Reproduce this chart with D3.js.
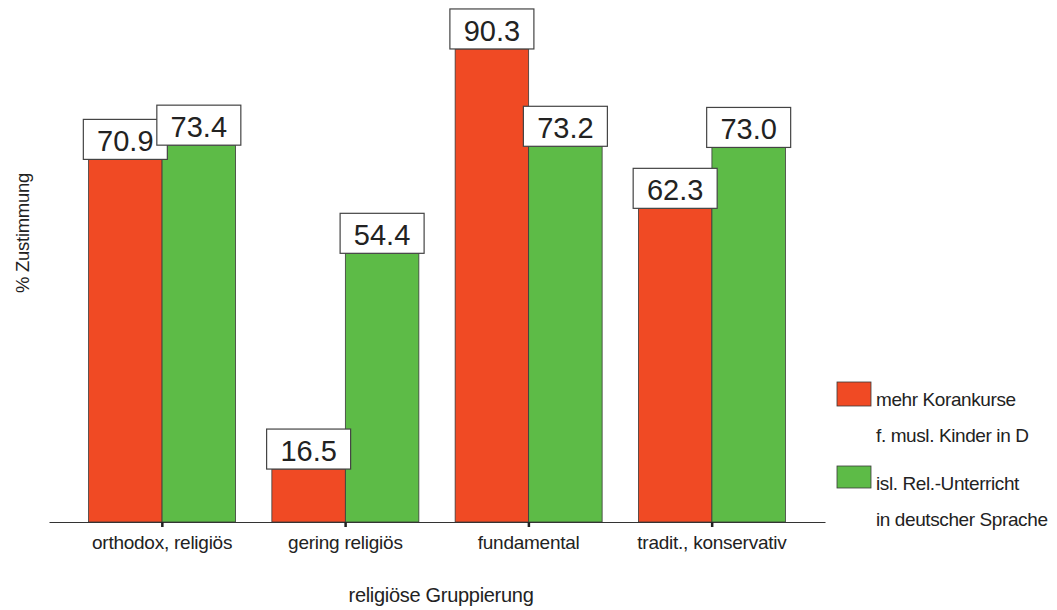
<!DOCTYPE html>
<html>
<head>
<meta charset="utf-8">
<script src="https://cdn.jsdelivr.net/npm/d3@7"></script>
<style>
  html, body { margin: 0; padding: 0; background: #fff; }
  svg { display: block; font-family: "Liberation Sans", Arial, sans-serif; }
</style>
</head>
<body>
<svg id="chart" width="1057" height="610"></svg>
<script>
const categories = ["orthodox, religiös", "gering religiös", "fundamental", "tradit., konservativ"];
const seriesNames = ["mehr Korankurse|f. musl. Kinder in D", "isl. Rel.-Unterricht|in deutscher Sprache"];
const koranValues = [70.9, 16.5, 90.3, 62.3];
const unterrichtValues = [73.4, 54.4, 73.2, 73.0];
const seriesColors = ["#F04A24", "#5DBB47"];
const yTitle = "% Zustimmung";
const xTitle = "religiöse Gruppierung";

const series = [koranValues, unterrichtValues];
const svg = d3.select("#chart");

const x0 = d3.scaleBand().domain(categories).range([49, 825]).paddingInner(0.198).paddingOuter(0.216);
const x1 = d3.scaleBand().domain([0, 1]).range([0, x0.bandwidth()]).padding(0);
const y = d3.scaleLinear().domain([7.2, 98.9]).range([522, 0]);

const groups = svg.append("g").selectAll("g").data(categories).join("g")
  .attr("transform", d => `translate(${x0(d)},0)`);

groups.each(function(cat, ci) {
  const g = d3.select(this);
  series.forEach((vals, si) => {
    const v = vals[ci];
    g.append("rect")
      .attr("x", x1(si))
      .attr("y", y(v))
      .attr("width", x1.bandwidth())
      .attr("height", y.range()[0] - y(v))
      .attr("fill", seriesColors[si])
      .attr("stroke", "#3a3a3a")
      .attr("stroke-width", 0.8);
  });
});

// axis
const axis = d3.axisBottom(x0).tickSize(0).tickPadding(14);
const ax = svg.append("g").attr("transform", "translate(0,522)").call(axis);
ax.select(".domain").attr("stroke", "#333").attr("stroke-width", 1.2);
ax.selectAll(".tick text").attr("font-size", 19).attr("fill", "#222")
  .attr("font-family", "Liberation Sans, Arial, sans-serif").attr("letter-spacing", -0.25);
ax.selectAll(".tick").append("rect")
  .attr("x", -1).attr("y", 0).attr("width", 2.5).attr("height", 5).attr("fill", "#222");

// value label boxes
groups.each(function(cat, ci) {
  const g = d3.select(this);
  series.forEach((vals, si) => {
    const v = vals[ci];
    const cx = x1(si) + x1.bandwidth() / 2;
    const bw = 84, bh = 40;
    g.append("rect")
      .attr("x", cx - bw / 2).attr("y", y(v) - bh)
      .attr("width", bw).attr("height", bh)
      .attr("fill", "#fff").attr("stroke", "#444").attr("stroke-width", 1.2);
    g.append("text")
      .attr("x", cx).attr("y", y(v) - 8)
      .attr("text-anchor", "middle")
      .attr("font-size", 29)
      .attr("fill", "#222")
      .text(v.toFixed(1));
  });
});

// axis titles
svg.append("text").attr("x", 441).attr("y", 602).attr("text-anchor", "middle")
  .attr("font-size", 20).attr("fill", "#222").attr("letter-spacing", -0.3).text(xTitle);
svg.append("text").attr("transform", "translate(29,233) rotate(-90)").attr("text-anchor", "middle")
  .attr("font-size", 18.5).attr("fill", "#222").attr("letter-spacing", -0.3).text(yTitle);

// legend
const legendY = [382, 466];
const legendH = [24, 22];
seriesNames.forEach((name, i) => {
  const lines = name.split("|");
  svg.append("rect").attr("x", 837).attr("y", legendY[i]).attr("width", 34).attr("height", legendH[i])
    .attr("fill", seriesColors[i]).attr("stroke", "#3a3a3a").attr("stroke-width", 0.8);
  lines.forEach((ln, j) => {
    svg.append("text").attr("x", 876).attr("y", legendY[i] + 24 + j * 36)
      .attr("font-size", 19).attr("fill", "#222").attr("letter-spacing", -0.4).text(ln);
  });
});
</script>
</body>
</html>
